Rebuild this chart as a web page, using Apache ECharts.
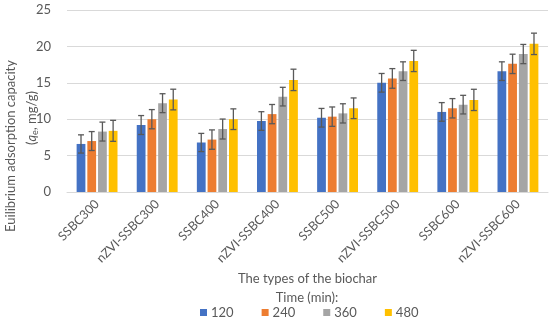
<!DOCTYPE html>
<html><head><meta charset="utf-8">
<script src="https://cdn.jsdelivr.net/npm/echarts@6/dist/echarts.min.js"></script>
<style>html,body{margin:0;padding:0;background:#fff}#c{width:550px;height:323px}</style>
</head><body><div id="c"></div>
<script>
const categories = ['SSBC300','nZVI-SSBC300','SSBC400','nZVI-SSBC400','SSBC500','nZVI-SSBC500','SSBC600','nZVI-SSBC600'];
const seriesNames = ['120','240','360','480'];
const v120 = [6.6, 9.2, 6.8, 9.75, 10.2, 15.0, 11.0, 16.6];
const v240 = [7.0, 10.0, 7.2, 10.7, 10.35, 15.6, 11.5, 17.6];
const v360 = [8.3, 12.2, 8.65, 13.1, 10.8, 16.6, 12.0, 18.95];
const v480 = [8.4, 12.7, 10.0, 15.4, 11.5, 18.0, 12.65, 20.35];
const e120 = [1.25, 1.3, 1.25, 1.28, 1.28, 1.28, 1.28, 1.28];
const e240 = [1.3, 1.32, 1.33, 1.32, 1.33, 1.35, 1.33, 1.33];
const e360 = [1.3, 1.3, 1.37, 1.28, 1.32, 1.28, 1.28, 1.32];
const e480 = [1.44, 1.42, 1.42, 1.47, 1.42, 1.46, 1.46, 1.47];
const yTicks = [0, 5, 10, 15, 20, 25];

const colors = ['#4472c4','#ed7d31','#a5a5a5','#ffc000'];
const values = [v120, v240, v360, v480];
const errors = [e120, e240, e360, e480];
const CAT_GAP = 0.32, BAR_GAP = 0.22;
const FONT = 'Lato';
const TXT = '#595959';

const errData = [];
values.forEach((arr, s) => arr.forEach((v, i) => errData.push([i, s, v - errors[s][i], v + errors[s][i]])));

// second y-title line built from measured pieces: (q_e, mg/g)
const mctx = document.createElement('canvas').getContext('2d');
const pieces = [
  {t: '(', font: '13px ' + FONT, dy: 0},
  {t: 'q', font: 'italic 13px ' + FONT, dy: 0},
  {t: 'e', font: '9px ' + FONT, dy: 6},
  {t: ', mg/g)', font: '13px ' + FONT, dy: 0}
];
let total = 0;
pieces.forEach(p => { mctx.font = p.font; p.w = mctx.measureText(p.t).width; total += p.w; });
let cx = -total / 2;
const unitChildren = pieces.map(p => {
  const el = {type: 'text', x: cx, y: p.dy, style: {text: p.t, font: p.font, fill: TXT, align: 'left', verticalAlign: 'top'}};
  cx += p.w;
  return el;
});

const chart = echarts.init(document.getElementById('c'), null, {renderer: 'canvas'});
const barSeries = values.map((arr, s) => ({
  name: seriesNames[s], type: 'bar', data: arr, barGap: (BAR_GAP*100)+'%', barCategoryGap: (CAT_GAP*100)+'%',
  itemStyle: {color: colors[s]}, z: 2
}));
chart.setOption({
  animation: false,
  textStyle: {fontFamily: FONT},
  grid: {left: 67, right: 2, top: 10, bottom: 131},
  xAxis: {
    type: 'category', data: categories,
    axisLine: {lineStyle: {color: '#d9d9d9', width: 1}},
    axisTick: {show: false},
    axisLabel: {rotate: 45, color: TXT, fontSize: 12.5, fontFamily: FONT, interval: 0, margin: 10},
    name: 'The types of the biochar', nameLocation: 'middle', nameGap: 74,
    nameTextStyle: {color: TXT, fontSize: 13, fontFamily: FONT}
  },
  yAxis: {
    type: 'value', min: yTicks[0], max: yTicks[yTicks.length-1], interval: 5,
    axisLine: {show: false}, axisTick: {show: false},
    splitLine: {lineStyle: {color: '#d9d9d9', width: 1}},
    axisLabel: {color: TXT, fontSize: 13, fontFamily: FONT, margin: 16}
  },
  legend: {
    data: seriesNames, bottom: -1, left: 195, itemWidth: 7, itemHeight: 7, itemGap: 28,
    icon: 'rect', textStyle: {color: TXT, fontSize: 13, fontFamily: FONT, padding: [0,0,0,-1]}
  },
  graphic: [
    {type: 'text', x: 307, y: 291, style: {text: 'Time (min):', fill: TXT, font: '13px ' + FONT, align: 'center', verticalAlign: 'top'}},
    {type: 'text', x: 4, y: 146, rotation: Math.PI/2, style: {text: 'Euilibrium adsorption capacity', fill: TXT, font: '13px ' + FONT, align: 'center', verticalAlign: 'top'}},
    {type: 'group', x: 25, y: 118, rotation: Math.PI/2, children: unitChildren}
  ],
  series: barSeries.concat([{
    type: 'custom', name: 'err', data: errData, z: 5,
    encode: {x: 0, y: [2, 3]},
    renderItem: function(params, api) {
      const cat = api.value(0), s = api.value(1);
      const band = api.size([1, 0])[0];
      const inner = band * (1 - CAT_GAP);
      const bw = inner / (4 + 3 * BAR_GAP);
      const c = api.coord([cat, 0])[0];
      const x = c - inner/2 + s * bw * (1 + BAR_GAP) + bw/2;
      const yl = api.coord([cat, api.value(2)])[1];
      const yh = api.coord([cat, api.value(3)])[1];
      const cap = 3;
      const st = {stroke: '#595959', lineWidth: 1.3, fill: null};
      return {type: 'group', children: [
        {type: 'line', shape: {x1: x, y1: yl, x2: x, y2: yh}, style: st},
        {type: 'line', shape: {x1: x-cap, y1: yl, x2: x+cap, y2: yl}, style: st},
        {type: 'line', shape: {x1: x-cap, y1: yh, x2: x+cap, y2: yh}, style: st}
      ]};
    }
  }])
});
</script></body></html>
